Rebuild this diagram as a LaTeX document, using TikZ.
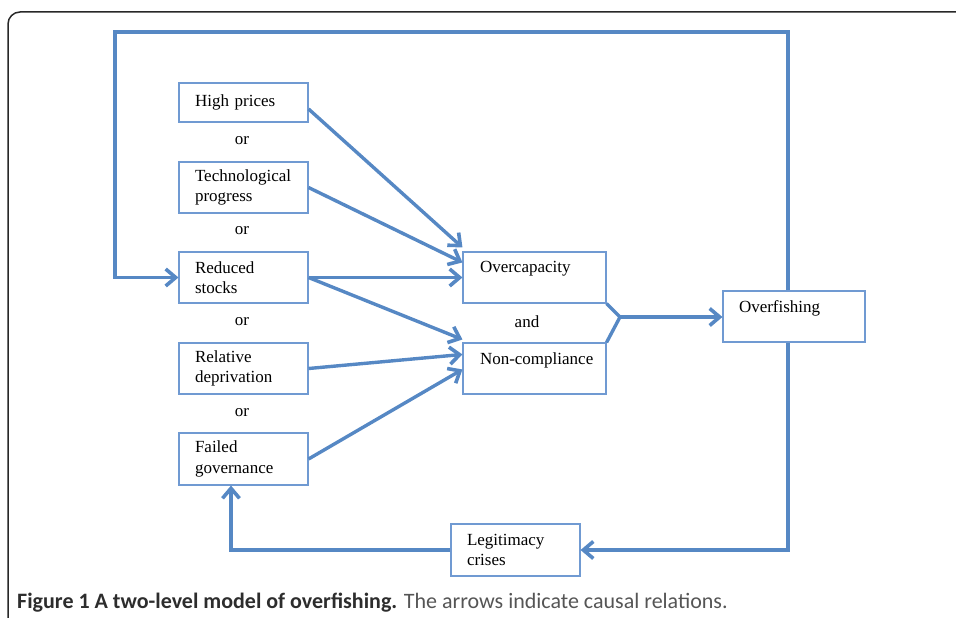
\documentclass[tikz,border=0pt]{standalone}
\usepackage{fontspec}
\setmainfont{Liberation Serif}
\newfontfamily\capfont{Carlito}
\usetikzlibrary{arrows.meta}
\definecolor{lineblue}{RGB}{86,136,196}
\definecolor{boxblue}{RGB}{112,154,210}
\definecolor{framegray}{RGB}{40,40,40}
\definecolor{capdark}{RGB}{45,45,45}
\definecolor{capgray}{RGB}{85,85,85}
\tikzset{
  box/.style={draw=boxblue, line width=1.1pt, fill=white, inner xsep=16pt, inner ysep=0pt,
    align=left, font=\fontsize{17}{20.5}\selectfont},
  conn/.style={draw=lineblue, line width=3.4pt,
    -{Straight Barb[length=10pt,width=17pt,line width=3.6pt]}},
  plainconn/.style={draw=lineblue, line width=3.4pt},
  orlab/.style={font=\fontsize{17}{20}\selectfont, inner sep=0pt}
}
\begin{document}
\begin{tikzpicture}[x=1pt,y=-1pt]
\useasboundingbox (0,0) rectangle (956,618);
\begin{scope}
\clip (0,0) rectangle (956,618);
\draw[framegray, line width=1.5pt, rounded corners=12pt] (8,640) -- (8,12) -- (980,12);
\end{scope}

% left column
\node[box, text width=97pt, minimum height=39pt] (hp) at (243.5,102.5) {High prices};
\node[box, text width=97pt, minimum height=51pt] (tp) at (243.5,187.5) {Technological\\progress};
\node[box, text width=97pt, minimum height=51pt] (rs) at (243.5,277.5) {Reduced\\stocks};
\node[box, text width=97pt, minimum height=51pt] (rd) at (243.5,368.5) {Relative\\deprivation};
\node[box, text width=97pt, minimum height=52pt] (fg) at (243.5,459) {Failed\\governance};

\node[orlab] (or1) at (242,141) {or};
\node[orlab] (or2) at (242,231) {or};
\node[orlab] (or3) at (242,322) {or};
\node[orlab] (or4) at (242,413) {or};

% middle
\node[box, text width=109pt, inner xsep=17pt, minimum height=51pt] (oc) at (534.5,277.5) {\mbox{Overcapacity}\\\mbox{}};
\node[box, text width=109pt, inner xsep=17pt, minimum height=51pt] (nc) at (534.5,368.5) {\mbox{Non-compliance}\\\mbox{}};
\node[orlab] (and) at (527,322) {and};

% right
\node[box, text width=110pt, minimum height=51pt] (of) at (794,316.5) {Overfishing\\\mbox{}};
\node[box, text width=97pt, minimum height=52pt] (lc) at (515.5,550) {Legitimacy\\crises};

% connectors into overcapacity / non-compliance
\draw[conn] ([yshift=-6.5pt]hp.east) -- ([yshift=4pt]oc.north west);
\draw[conn] (tp.east) -- ([yshift=-11pt]oc.north west);
\draw[conn] (rs.east) -- (oc.west);
\draw[conn] (rs.east) -- ([yshift=3pt]nc.north west);
\draw[conn] (rd.east) -- ([yshift=-12pt]nc.north west);
\draw[conn] (fg.east) -- ([yshift=-27pt]nc.north west);

% merge to overfishing
\coordinate (merge) at (620,317);
\draw[plainconn] (oc.south east) -- (merge) -- (nc.north east);
\draw[conn] (merge) -- (merge -| of.west);

% feedback loops
\coordinate (loopL) at (115,32);
\draw[conn] ([xshift=-6pt]of.north) |- (loopL) |- (rs.west);
\draw[conn] ([xshift=-6pt]of.south) |- (lc.east);
\draw[conn] (lc.west) -| ([xshift=-12.5pt]fg.south);

% caption
\node[anchor=west, inner sep=0pt, font=\capfont\fontsize{22}{24}\selectfont, text=capdark] (cap) at (17,603)
  {\textbf{Figure 1 A two-level model of overfishing.} {\color{capgray}The arrows indicate causal relations.}};
\end{tikzpicture}
\end{document}
